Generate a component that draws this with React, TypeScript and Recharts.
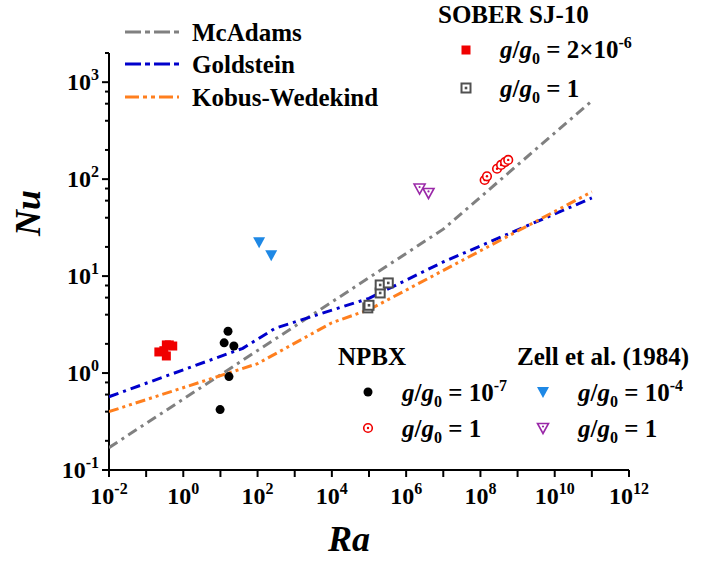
import { ScatterChart, Scatter, XAxis, YAxis } from "recharts";

// correlations (break points, straight in log-log between them)
const mcAdams = [
  { ra: 1e-2, nu: 0.17 },
  { ra: 1e7, nu: 30.5 },
  { ra: 1e11, nu: 640 },
];
const goldstein = [
  { ra: 1e-2, nu: 0.57 },
  { ra: 40, nu: 1.8 },
  { ra: 300, nu: 2.9 },
  { ra: 1e5, nu: 5.9 },
  { ra: 1e7, nu: 14 },
  { ra: 1e11, nu: 64 },
];
const kobusWedekind = [
  { ra: 1e-2, nu: 0.4 },
  { ra: 100, nu: 1.25 },
  { ra: 1e4, nu: 3.3 },
  { ra: 1e5, nu: 4.5 },
  { ra: 1e11, nu: 74 },
];

// measurements
const soberLowG = [
  { ra: 0.22, nu: 1.65 },
  { ra: 0.3, nu: 1.7 },
  { ra: 0.35, nu: 1.95 },
  { ra: 0.42, nu: 1.95 },
  { ra: 0.52, nu: 1.9 },
  { ra: 0.35, nu: 1.5 },
];
const soberEarth = [
  { ra: 9.3e4, nu: 4.7 },
  { ra: 1.0e5, nu: 5.0 },
  { ra: 2.0e5, nu: 6.7 },
  { ra: 2.0e5, nu: 8.1 },
  { ra: 3.3e5, nu: 8.5 },
];
const npbxLowG = [
  { ra: 16, nu: 2.7 },
  { ra: 12.6, nu: 2.05 },
  { ra: 23, nu: 1.9 },
  { ra: 17, nu: 0.92 },
  { ra: 9.8, nu: 0.42 },
];
const npbxEarth = [
  { ra: 1.3e8, nu: 98 },
  { ra: 1.5e8, nu: 107 },
  { ra: 2.8e8, nu: 128 },
  { ra: 3.6e8, nu: 140 },
  { ra: 4.6e8, nu: 150 },
  { ra: 5.6e8, nu: 158 },
];
const zellLowG = [
  { ra: 110, nu: 22.4 },
  { ra: 233, nu: 16.4 },
];
const zellEarth = [
  { ra: 2.3e6, nu: 80 },
  { ra: 4.0e6, nu: 72 },
];

const xTicks = [1e-2, 1e-1, 1, 10, 1e2, 1e3, 1e4, 1e5, 1e6, 1e7, 1e8, 1e9, 1e10, 1e11, 1e12];
const yTicks = [
  0.1, 0.2, 0.4, 0.6, 0.8, 1, 2, 4, 6, 8, 10, 20, 40, 60, 80, 100, 200, 400, 600, 800, 1000, 2000,
];

const FONT = "'Liberation Serif', 'Times New Roman', serif";
const noDot = () => <g />;

const isMajor = (v: number) => Math.abs(Math.log10(v) - Math.round(Math.log10(v))) < 1e-6;

const XTick = (props: any) => {
  const { x, y, payload } = props;
  const exp = Math.round(Math.log10(payload.value));
  return (
    <g>
      <line x1={x} x2={x} y1={y} y2={y + 7} stroke="#000" strokeWidth={2} />
      {exp % 2 === 0 && (
        <text x={x} y={y + 34} textAnchor="middle" fontFamily={FONT} fontWeight="bold" fontSize={24} fill="#000">
          10
          <tspan dy={-10} fontSize={16}>
            {exp}
          </tspan>
        </text>
      )}
    </g>
  );
};

const YTick = (props: any) => {
  const { x, y, payload } = props;
  const major = isMajor(payload.value);
  const exp = Math.round(Math.log10(payload.value));
  return (
    <g>
      <line x1={x} x2={x - (major ? 7 : 4)} y1={y} y2={y} stroke="#000" strokeWidth={2} />
      {major && (
        <text x={x - 10} y={y + 8} textAnchor="end" fontFamily={FONT} fontWeight="bold" fontSize={24} fill="#000">
          10
          <tspan dy={-10} fontSize={16}>
            {exp}
          </tspan>
        </text>
      )}
    </g>
  );
};

const RedSquare = ({ cx, cy }: any) => <rect x={cx - 4.5} y={cy - 4.5} width={9} height={9} fill="#f00000" />;
const GraySquare = ({ cx, cy }: any) => (
  <g>
    <rect x={cx - 4.5} y={cy - 4.5} width={9} height={9} fill="#fff" stroke="#505050" strokeWidth={2} />
    <rect x={cx - 1.3} y={cy - 1.3} width={2.6} height={2.6} fill="#505050" />
  </g>
);
const BlackDot = ({ cx, cy }: any) => <circle cx={cx} cy={cy} r={4.5} fill="#000" />;
const RedRing = ({ cx, cy }: any) => (
  <g>
    <circle cx={cx} cy={cy} r={4.3} fill="#fff" stroke="#f00000" strokeWidth={1.6} />
    <circle cx={cx} cy={cy} r={1.2} fill="#f00000" />
  </g>
);
const BlueTri = ({ cx, cy }: any) => (
  <path d={`M${cx - 6},${cy - 5} L${cx + 6},${cy - 5} L${cx},${cy + 6} Z`} fill="#1e88e5" />
);
const PurpleTri = ({ cx, cy }: any) => (
  <g>
    <path
      d={`M${cx - 5.5},${cy - 4.5} L${cx + 5.5},${cy - 4.5} L${cx},${cy + 5.5} Z`}
      fill="#fff"
      stroke="#9a28a8"
      strokeWidth={1.6}
    />
    <circle cx={cx} cy={cy - 1.5} r={1.1} fill="#9a28a8" />
  </g>
);

const G = ({ x, y, tail, supTail }: { x: number; y: number; tail: string; supTail?: string }) => (
  <text x={x} y={y} fontFamily={FONT} fontWeight="bold" fontSize={25} fill="#000">
    <tspan fontStyle="italic">g</tspan>/<tspan fontStyle="italic">g</tspan>
    <tspan dy={6} fontSize={16}>
      0
    </tspan>
    <tspan dy={-6}>{tail}</tspan>
    {supTail && (
      <tspan dy={-10} fontSize={16}>
        {supTail}
      </tspan>
    )}
  </text>
);

const lineStyles = [
  { label: "McAdams", color: "#808080", dash: "16 4 5 4", y: 32 },
  { label: "Goldstein", color: "#0000cc", dash: "16 4 5 4", y: 64 },
  { label: "Kobus-Wedekind", color: "#ff7f1e", dash: "14 4 4 4 4 4", y: 97 },
];

export default function App() {
  return (
    <div style={{ position: "absolute", left: 0, top: 0, width: 713, height: 562, background: "#fff" }}>
      <ScatterChart width={713} height={562} margin={{ top: 53, right: 84, bottom: 0, left: 0 }}>
        <XAxis
          dataKey="ra"
          type="number"
          scale="log"
          domain={[1e-2, 1e12]}
          ticks={xTicks}
          interval={0}
          allowDataOverflow
          height={92}
          tickSize={0}
          tickMargin={0}
          tickLine={false}
          axisLine={{ stroke: "#000", strokeWidth: 2 }}
          tick={<XTick />}
        />
        <YAxis
          dataKey="nu"
          type="number"
          scale="log"
          domain={[0.1, 2000]}
          ticks={yTicks}
          interval={0}
          allowDataOverflow
          width={109}
          tickSize={0}
          tickMargin={0}
          tickLine={false}
          axisLine={{ stroke: "#000", strokeWidth: 2 }}
          tick={<YTick />}
        />
        <Scatter
          data={mcAdams}
          shape={noDot}
          line={{ stroke: "#808080", strokeWidth: 3, strokeDasharray: "10 5 3 5" }}
          lineType="joint"
          isAnimationActive={false}
        />
        <Scatter
          data={goldstein}
          shape={noDot}
          line={{ stroke: "#0000cc", strokeWidth: 3, strokeDasharray: "10 5 3 5" }}
          lineType="joint"
          isAnimationActive={false}
        />
        <Scatter
          data={kobusWedekind}
          shape={noDot}
          line={{ stroke: "#ff7f1e", strokeWidth: 3, strokeDasharray: "10 4 3 4 3 4" }}
          lineType="joint"
          isAnimationActive={false}
        />
        <Scatter data={soberLowG} shape={RedSquare} isAnimationActive={false} />
        <Scatter data={soberEarth} shape={GraySquare} isAnimationActive={false} />
        <Scatter data={npbxLowG} shape={BlackDot} isAnimationActive={false} />
        <Scatter data={npbxEarth} shape={RedRing} isAnimationActive={false} />
        <Scatter data={zellLowG} shape={BlueTri} isAnimationActive={false} />
        <Scatter data={zellEarth} shape={PurpleTri} isAnimationActive={false} />
      </ScatterChart>

      <svg width={713} height={562} style={{ position: "absolute", left: 0, top: 0, pointerEvents: "none" }}>
        {lineStyles.map((l) => (
          <g key={l.label}>
            <line x1={125} x2={179} y1={l.y} y2={l.y} stroke={l.color} strokeWidth={3} strokeDasharray={l.dash} />
            <text x={192} y={l.y + 9} fontFamily={FONT} fontWeight="bold" fontSize={25} fill="#000">
              {l.label}
            </text>
          </g>
        ))}

        <text x={438} y={23} fontFamily={FONT} fontWeight="bold" fontSize={25} fill="#000">
          SOBER SJ-10
        </text>
        <RedSquare cx={466} cy={50} />
        <G x={500} y={58} tail=" = 2×10" supTail="-6" />
        <GraySquare cx={466} cy={88} />
        <G x={500} y={97} tail=" = 1" />

        <text x={338} y={365} fontFamily={FONT} fontWeight="bold" fontSize={25} fill="#000">
          NPBX
        </text>
        <text x={517} y={365} fontFamily={FONT} fontWeight="bold" fontSize={25} fill="#000">
          Zell et al. (1984)
        </text>
        <BlackDot cx={368} cy={392} />
        <G x={402} y={401} tail=" = 10" supTail="-7" />
        <RedRing cx={368} cy={428} />
        <G x={402} y={437} tail=" = 1" />
        <BlueTri cx={543} cy={392} />
        <G x={578} y={401} tail=" = 10" supTail="-4" />
        <PurpleTri cx={543} cy={428} />
        <G x={578} y={437} tail=" = 1" />

        <text x={349} y={551} textAnchor="middle" fontFamily={FONT} fontWeight="bold" fontStyle="italic" fontSize={36} fill="#000">
          Ra
        </text>
        <text
          transform="translate(40,213) rotate(-90)"
          textAnchor="middle"
          fontFamily={FONT}
          fontWeight="bold"
          fontStyle="italic"
          fontSize={36}
          fill="#000"
        >
          Nu
        </text>
      </svg>
    </div>
  );
}
